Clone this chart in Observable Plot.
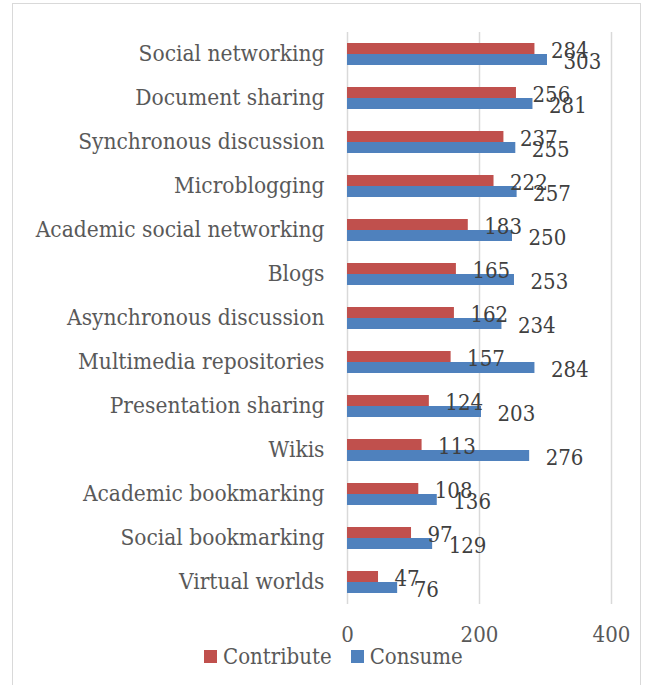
<!DOCTYPE html>
<html><head><meta charset="utf-8">
<script src="https://cdn.jsdelivr.net/npm/d3@7"></script>
<script src="https://cdn.jsdelivr.net/npm/@observablehq/plot@0.6"></script>
<style>
body{margin:0;background:#fff;}
#wrap{position:relative;width:654px;height:685px;overflow:hidden;font-family:"DejaVu Serif Condensed","DejaVu Serif",serif;}
#border{position:absolute;left:12px;top:3px;width:629px;height:720px;border:1.5px solid #d9d9d9;box-sizing:border-box;}
#chart{position:absolute;left:0;top:0;}
#legend{position:absolute;left:204px;top:644px;}
.lg-swatches{font-family:"DejaVu Serif Condensed","DejaVu Serif",serif !important;font-size:22px !important;color:#595959 !important;min-height:0 !important;margin:0 !important;}
.lg-swatch{margin-right:19px !important;}
.lg-swatch > svg{margin-right:6px !important;}
</style></head>
<body><div id="wrap"><div id="border"></div><div id="chart"></div><div id="legend"></div></div>
<script>
const categories = ["Social networking","Document sharing","Synchronous discussion","Microblogging","Academic social networking","Blogs","Asynchronous discussion","Multimedia repositories","Presentation sharing","Wikis","Academic bookmarking","Social bookmarking","Virtual worlds"];
const contribute = [284,256,237,222,183,165,162,157,124,113,108,97,47];
const consume = [303,281,255,257,250,253,234,284,203,276,136,129,76];
const seriesNames = ["Contribute","Consume"];
const seriesColors = ["#C0504D","#4F81BD"];
const xTicks = [0,200,400];

const rows = categories.flatMap((c,i)=>[
  {category:c, series:seriesNames[0], value:contribute[i]},
  {category:c, series:seriesNames[1], value:consume[i]}
]);

const font = '"DejaVu Serif Condensed","DejaVu Serif",serif';
const chart = Plot.plot({
  width:654, height:655,
  marginTop:30, marginBottom:50, marginLeft:347, marginRight:43,
  style:{fontFamily:font, fontSize:"22px", background:"transparent", overflow:"visible"},
  x:{domain:[0,400]},
  fy:{domain:categories, padding:0, label:null},
  y:{domain:seriesNames, paddingInner:0, paddingOuter:0.92, axis:null},
  color:{domain:seriesNames, range:seriesColors},
  marks:[
    Plot.gridX(xTicks, {stroke:"#d9d9d9", strokeOpacity:1, strokeWidth:1.5}),
    Plot.barX(rows, {fy:"category", y:"series", x:"value", fill:"series"}),
    Plot.text(rows, {fy:"category", y:"series", x:"value", text:d=>String(d.value), textAnchor:"start", dx:16, dy:2, fill:"#404040", fontSize:22}),
    Plot.axisX(xTicks, {tickSize:0, tickPadding:22, fill:"#595959", label:null, fontSize:22}),
    Plot.axisFy({anchor:"left", tickSize:0, tickPadding:23, fill:"#595959", label:null, fontSize:22.5, dy:-1})
  ]
});
document.getElementById("chart").appendChild(chart);

const legend = Plot.legend({
  color:{domain:seriesNames, range:seriesColors},
  swatchWidth:13, swatchHeight:13, className:"lg"
});
document.getElementById("legend").appendChild(legend);
</script>
</body></html>
